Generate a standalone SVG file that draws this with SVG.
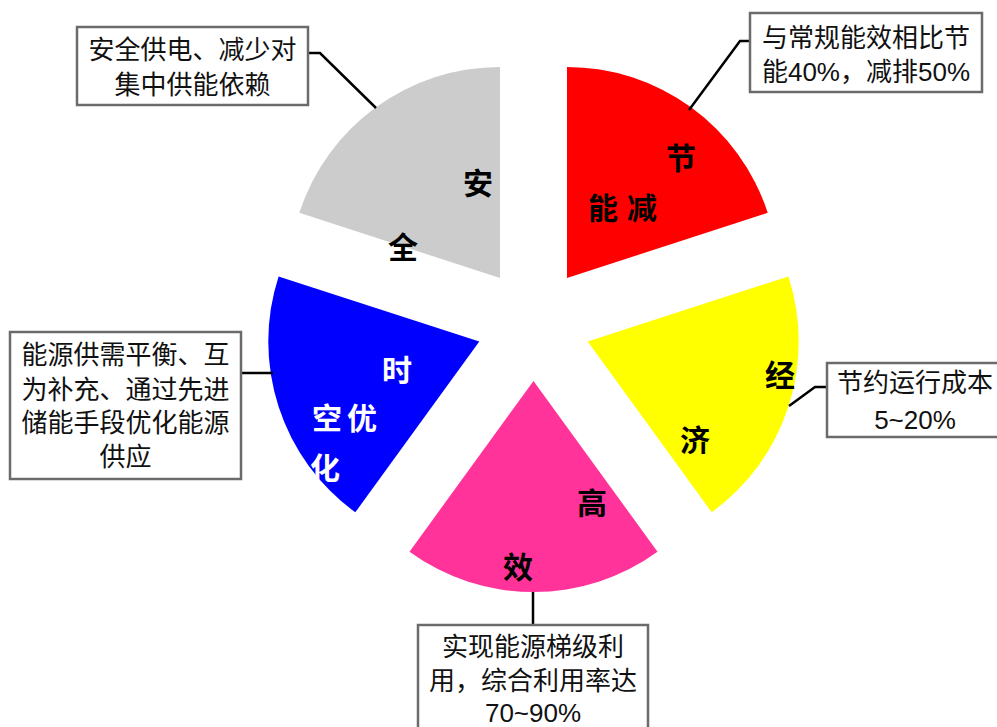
<svg xmlns="http://www.w3.org/2000/svg" width="997" height="727" viewBox="0 0 997 727">
<style>
.box{fill:#fff;stroke:#6b6b6b;stroke-width:2.5}
.bt{font-family:"Liberation Sans","Noto Sans CJK SC",sans-serif;font-size:26px;fill:#111;text-anchor:middle}
.sl{font-family:"Noto Sans CJK SC",sans-serif;font-size:30px;font-weight:bold;text-anchor:middle}
.ln{fill:none;stroke:#000;stroke-width:2.5}
</style>
<rect width="997" height="727" fill="#fff"/>
<g id="sector-red">
<path d="M567,278 L567,67 A211,211 0 0 1 767.7,212.8 Z" fill="#FF0000"/>
<text class="sl" x="681" y="169">节</text>
<text class="sl" x="603" y="219">能</text>
<text class="sl" x="642" y="219">减</text>
</g>
<g id="sector-yellow">
<path d="M587.7,341.6 L788.4,276.4 A211,211 0 0 1 711.7,512.3 Z" fill="#FFFF00"/>
<text class="sl" x="780" y="386">经</text>
<text class="sl" x="695" y="451">济</text>
</g>
<g id="sector-pink">
<path d="M533.5,381 L657.5,551.7 A211,211 0 0 1 409.5,551.7 Z" fill="#FF3399"/>
<text class="sl" x="592" y="514">高</text>
<text class="sl" x="518" y="578">效</text>
</g>
<g id="sector-blue">
<path d="M479.3,341.6 L355.3,512.3 A211,211 0 0 1 278.6,276.4 Z" fill="#0000FF"/>
<text class="sl" x="397" y="381" fill="#fff">时</text>
<text class="sl" x="327" y="429" fill="#fff">空</text>
<text class="sl" x="362" y="429" fill="#fff">优</text>
<text class="sl" x="325" y="479" fill="#fff">化</text>
</g>
<g id="sector-gray">
<path d="M500,278 L299.3,212.8 A211,211 0 0 1 500,67 Z" fill="#CCCCCC"/>
<text class="sl" x="478" y="194">安</text>
<text class="sl" x="403" y="258">全</text>
</g>
<g id="connectors">
<polyline class="ln" points="308,53 320,53 376,108"/>
<polyline class="ln" points="750,41 740,41 689,110"/>
<polyline class="ln" points="827,387 815,387 789,406"/>
<line class="ln" x1="241" y1="373" x2="273" y2="373"/>
<line class="ln" x1="533" y1="592" x2="533" y2="625"/>
</g>
<g id="note-safety">
<rect class="box" x="77" y="27" width="231" height="78"/>
<text class="bt" x="192.5" y="59">安全供电、减少对</text>
<text class="bt" x="192.5" y="94">集中供能依赖</text>
</g>
<g id="note-energy">
<rect class="box" x="750" y="13" width="232" height="79"/>
<text class="bt" x="866" y="47">与常规能效相比节</text>
<text class="bt" x="866" y="81">能40%，减排50%</text>
</g>
<g id="note-economy">
<rect class="box" x="827" y="363" width="180" height="74"/>
<text class="bt" x="915" y="392">节约运行成本</text>
<text class="bt" x="915" y="429">5~20%</text>
</g>
<g id="note-balance">
<rect class="box" x="10" y="332" width="231" height="147"/>
<text class="bt" x="125.5" y="364">能源供需平衡、互</text>
<text class="bt" x="125.5" y="399">为补充、通过先进</text>
<text class="bt" x="125.5" y="432">储能手段优化能源</text>
<text class="bt" x="125.5" y="466">供应</text>
</g>
<g id="note-efficiency">
<rect class="box" x="418" y="625" width="230" height="110"/>
<text class="bt" x="533" y="656">实现能源梯级利</text>
<text class="bt" x="533" y="690">用，综合利用率达</text>
<text class="bt" x="533" y="722">70~90%</text>
</g>
</svg>
